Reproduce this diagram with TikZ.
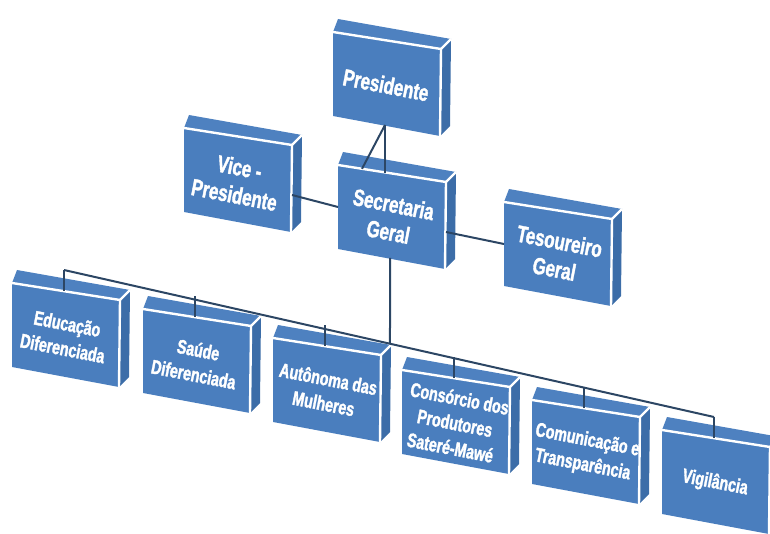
\documentclass[tikz,border=0pt]{standalone}
\usepackage{fontspec}
\newfontfamily\orgfont[FakeStretch=0.72, FakeBold=1.6]{Liberation Sans Bold}
\usetikzlibrary{intersections}

\definecolor{frontblue}{HTML}{4A7EBE}
\definecolor{topblue}{HTML}{4E81C0}
\definecolor{sideblue}{HTML}{3C6DA8}
\definecolor{linkblue}{HTML}{2C4664}

\tikzset{
  link/.style={draw=linkblue, line width=2pt},
  rim/.style={draw=white, line width=2.4pt, line join=round},
  toptext/.style={text=white, align=center, rotate=-11, inner sep=0pt,
    font=\orgfont\fontsize{23.5}{28}\selectfont},
  subtext/.style={toptext, font=\orgfont\fontsize{19.8}{25}\selectfont}
}

% 3d box: name, front top-left corner, text style, text
\newcommand{\orgbox}[4]{%
  \begin{scope}[shift={(#2)}]
    \fill[topblue] (0,0) -- (5,-13) -- (118,7) -- (108,17) -- cycle;
    \fill[sideblue] (108,17) -- (118,7) -- (117,94) -- (107,104) -- cycle;
    \fill[frontblue] (0,0) -- (108,17) -- (107,104) -- (0,84) -- cycle;
    \draw[rim] (0,0) -- (108,17) -- (107,104);
    \draw[rim] (108,17) -- (118,7);
    \node[#3] (#1) at (53,53) {#4};
    \coordinate (#1-n) at (52,8.2);
    \coordinate (#1-up) at (52,-13);
    \coordinate (#1-s) at (52,93);
    \coordinate (#1-w) at (0,42);
    \coordinate (#1-e) at (108,67);
    \coordinate (#1-nw) at (24,3.8);
  \end{scope}}

\begin{document}
\begin{tikzpicture}[x=1pt, y=-1pt]
  \useasboundingbox (0,0) rectangle (770,534);
  \clip (0,0) rectangle (770,534);

  \orgbox{pres}{333,32}{toptext}{Presidente}
  \orgbox{vice}{184,128}{toptext}{Vice -\\Presidente}
  \orgbox{sec}{338,165}{toptext}{Secretaria\\Geral}
  \orgbox{tes}{504,202}{toptext}{Tesoureiro\\Geral}

  % bottom row
  \orgbox{edu}{12,283}{subtext}{Educação\\Diferenciada}
  \orgbox{sau}{143,309}{subtext}{Saúde\\Diferenciada}
  \orgbox{aut}{273,338}{subtext}{Autônoma das\\Mulheres}
  \orgbox{con}{402,370}{subtext}{Consórcio dos\\Produtores\\Sateré-Mawé}
  \orgbox{com}{532,400}{subtext}{Comunicação e\\Transparência}
  \orgbox{vig}{662,430}{subtext}{Vigilância}

  % links
  \draw[link] (pres-s) -- (pres-s |- sec-n);
  \draw[link] (pres-s) -- (sec-nw);
  \draw[link] (vice-e) -- (sec-w);
  \draw[link] (sec-e) -- (tes-w);
  \draw[link, name path=bus] (edu-up) -- (vig-up);
  \path[name path=drop] (sec-s) -- ++(0,120);
  \draw[link, name intersections={of=bus and drop}] (sec-s) -- (intersection-1);
  \foreach \b in {edu,sau,aut,con,com,vig}
    \draw[link] (\b-up) -- (\b-n);
\end{tikzpicture}
\end{document}
